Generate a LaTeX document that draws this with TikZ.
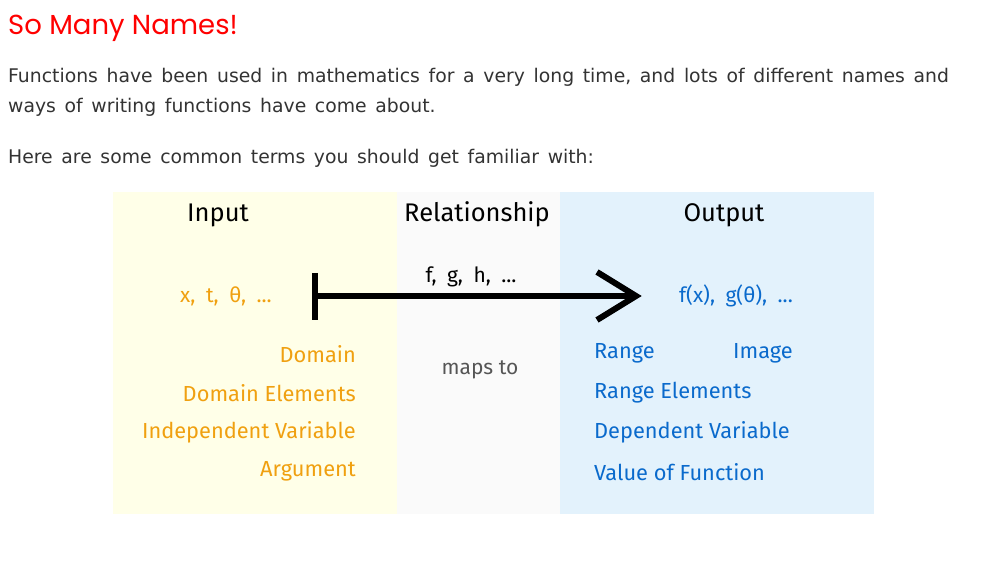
\documentclass[tikz,border=0pt]{standalone}
\usepackage{fontspec}
\setmainfont[WordSpace={1.45,1,1}]{DejaVu Sans}
\newfontfamily\titlefont{Poppins}
\newfontfamily\handfont{Fira Sans}
\newcommand\wgap{\hspace{0.5em}}
\definecolor{titlered}{HTML}{FF0000}
\definecolor{bodygrey}{HTML}{333333}
\definecolor{inbg}{HTML}{FFFFE8}
\definecolor{relbg}{HTML}{FAFAFA}
\definecolor{outbg}{HTML}{E3F2FC}
\definecolor{inorange}{HTML}{F0A010}
\definecolor{outblue}{HTML}{0A6ACC}
\definecolor{mapgrey}{HTML}{555555}
\begin{document}
\begin{tikzpicture}[x=1pt,y=-1pt,
  bodytext/.style={anchor=base west,inner sep=0pt,text=bodygrey,font=\fontsize{18.8}{22}\selectfont},
  heading/.style={anchor=base,inner sep=0pt,text=black,font=\handfont\fontsize{25.5}{30}\selectfont},
  symtext/.style={anchor=base,inner sep=0pt,font=\handfont\fontsize{21}{24}\selectfont},
  inlabel/.style={anchor=base east,inner sep=0pt,text=inorange,font=\handfont\fontsize{21.8}{25}\selectfont},
  outlabel/.style={anchor=base west,inner sep=0pt,text=outblue,font=\handfont\fontsize{21.8}{25}\selectfont},
  arrowline/.style={line width=6pt,black}]
\useasboundingbox (0,0) rectangle (989,561);
\fill[white] (0,0) rectangle (989,561);
% panels
\fill[inbg] (113,192) rectangle (397,514);
\fill[relbg] (397,192) rectangle (560,514);
\fill[outbg] (560,192) rectangle (874,514);
% title and body
\node[anchor=base west,inner sep=0pt,text=titlered,font=\titlefont\fontsize{27.5}{32}\selectfont] (title) at (8,35) {So Many Names!};
\node[bodytext] (l1) at (8,83) {Functions have been used in mathematics for a very long time, and lots of different names and};
\node[bodytext] (l2) at (8,113) {ways of writing functions have come about.};
\node[bodytext] (l3) at (8,164) {Here are some common terms you should get familiar with:};
% headings
\node[heading] (hin) at (218,222) {Input};
\node[heading] (hrel) at (477,222) {Relationship};
\node[heading] (hout) at (724,222) {Output};
% symbols
\node[symtext,text=inorange] (xs) at (226,303) {x,\wgap t,\wgap θ,\wgap ...};
\node[symtext,text=black] (fs) at (471,283) {f,\wgap g,\wgap h,\wgap ...};
\node[symtext,text=outblue] (ys) at (736,303) {f(x),\wgap g(θ),\wgap ...};
% arrow
\coordinate (bart) at (315,273);
\coordinate (barb) at (315,320);
\coordinate (start) at (315,296);
\coordinate (tip) at (636,296);
\coordinate (wa) at (597,272);
\coordinate (wb) at (597,320);
\draw[arrowline] (bart) -- (barb);
\draw[arrowline] (start) -- (tip);
\draw[arrowline,line join=miter] (wa) -- (tip) -- (wb);
% labels
\node[inlabel] (dom) at (356,363) {Domain};
\node[inlabel] (domel) at (356,402) {Domain Elements};
\node[inlabel] (indep) at (356,439) {Independent Variable};
\node[inlabel] (arg) at (356,477) {Argument};
\node[anchor=base,inner sep=0pt,text=mapgrey,font=\handfont\fontsize{21}{24}\selectfont] (maps) at (480,375) {maps to};
\node[outlabel] (range) at (594,359) {Range};
\node[outlabel] (image) at (733,359) {Image};
\node[outlabel] (rangeel) at (594,399) {Range Elements};
\node[outlabel] (dep) at (594,439) {Dependent Variable};
\node[outlabel] (val) at (594,481) {Value of Function};
\end{tikzpicture}
\end{document}
